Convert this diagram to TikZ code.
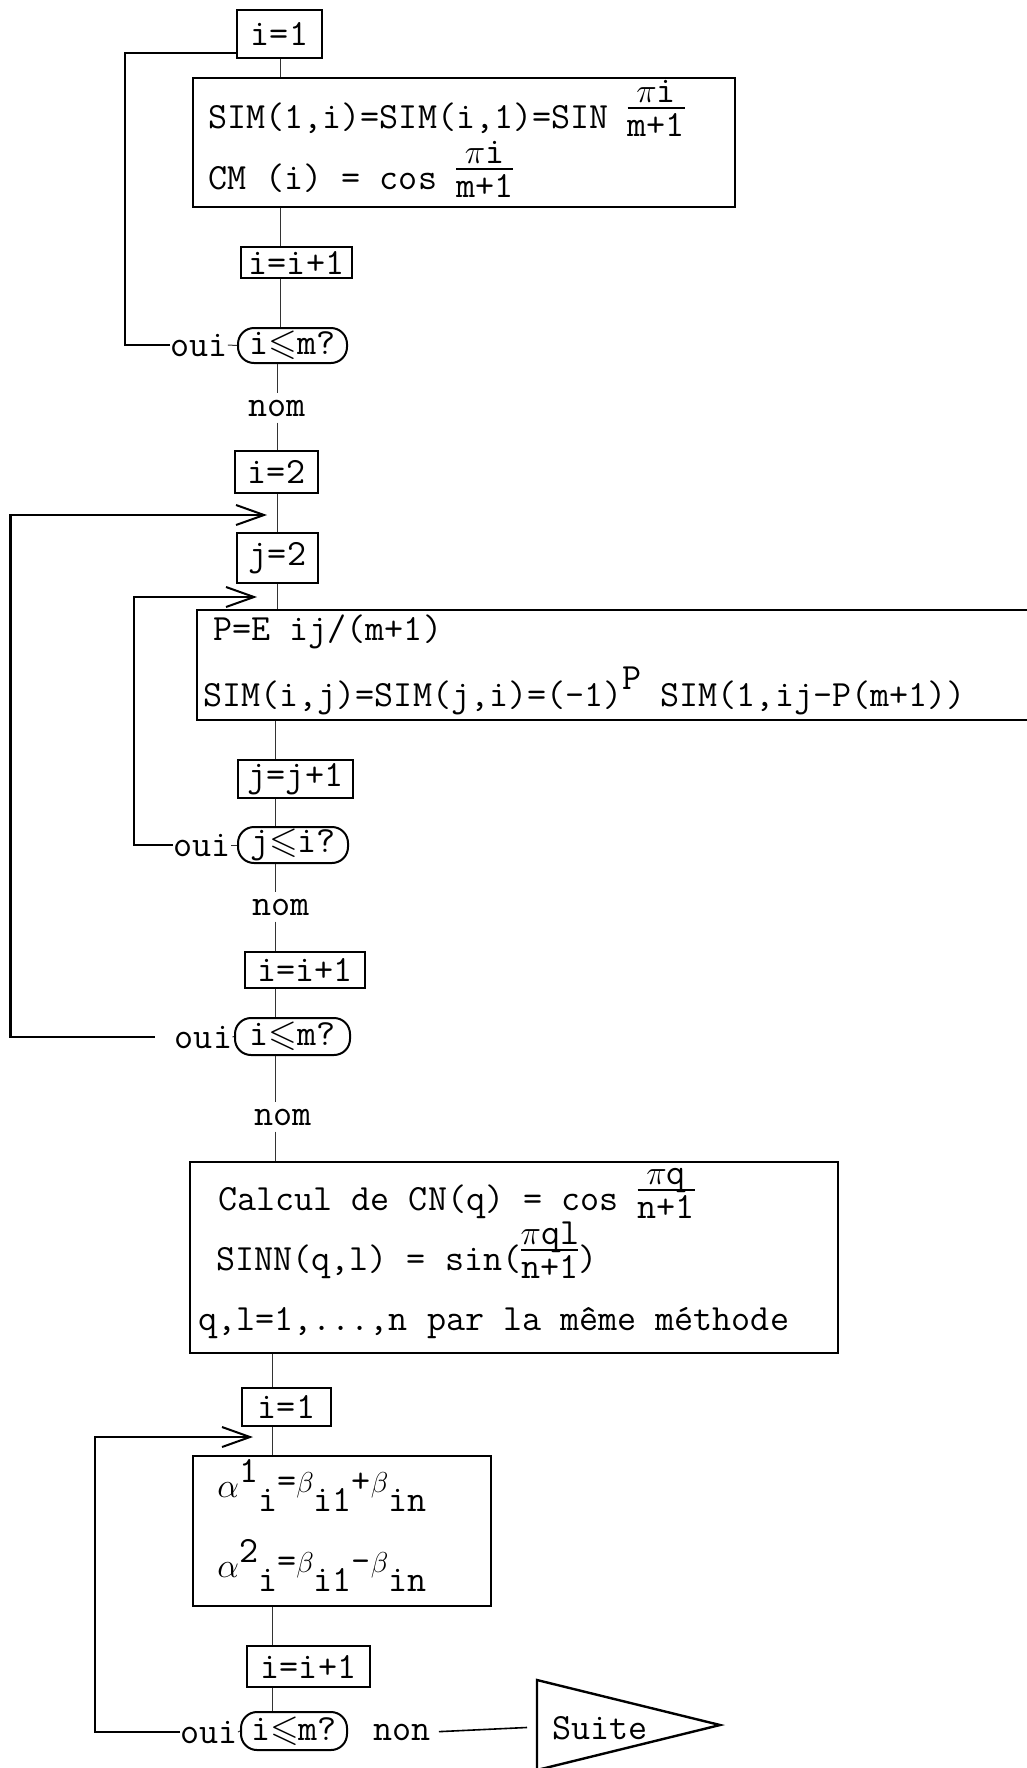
\documentclass[tikz,border=0pt]{standalone}
\usepackage{amssymb}
\usetikzlibrary{arrows.meta}
\newlength\tyw
\newcommand\tyfrac[2]{%
  \setbox0=\hbox{#1}\setbox2=\hbox{#2}%
  \tyw=\wd0 \ifdim\wd2>\tyw \tyw=\wd2 \fi
  \hbox to\tyw{\hss\raise0.7em\box0\hss}%
  \kern-\tyw
  \hbox to\tyw{\hss\lower0.22em\box2\hss}%
  \kern-\tyw
  \raise0.52em\hbox{\vrule width\tyw height0.9pt depth0pt}}
\newcommand\smb{{\fontsize{15}{17}\selectfont$\beta$}}
\begin{document}
\begin{tikzpicture}[x=0.5pt,y=-0.5pt,
  every node/.style={font=\ttfamily\fontsize{18.5}{22}\selectfont, inner sep=0pt},
  sbox/.style={draw, line width=0.8pt},
  bbox/.style={draw, line width=1.1pt},
  dec/.style={draw, line width=1pt, rounded corners=8pt},
  conn/.style={line width=0.5pt, black!80},
  loopl/.style={line width=1.2pt},
  barb/.style={-{Straight Barb[length=14pt,width=10pt,line width=1pt]}},
  txt/.style={anchor=base west},
  lab/.style={inner sep=3pt}]
\useasboundingbox (0,0) rectangle (1027,1768);
\coordinate (l1) at (0,53);
\coordinate (m1) at (280,0);
\coordinate (m2) at (277,0);
\coordinate (m3) at (275,0);
\coordinate (m4) at (272,0);
\coordinate (a2) at (277,515);
\coordinate (a3) at (277,597);
\coordinate (a4) at (272,1437);

% first block
\node[sbox, minimum width=42.5pt, minimum height=24pt] (bi1) at (279.5,34) {i=1};
\node[bbox, minimum width=271pt, minimum height=64.5pt] (B1) at (464,142.5) {};
\node[txt] (t11) at (208,128) {SIM(1,i)=SIM(i,1)=SIN \tyfrac{$\pi$i}{m+1}};
\node[txt] (t12) at (208,189) {CM (i) = cos \tyfrac{$\pi$i}{m+1}};
\node[sbox, minimum width=55.5pt, minimum height=15.5pt] (bii1) at (296.5,262.5) {i=i+1};
\node[dec, minimum width=54.5pt, minimum height=17.5pt] (d1) at (292.5,345.5) {i$\leqslant$m?};
\node (oui1) at (199,345) {oui};
\node[lab] (nom1) at (277,408) {nom};

% second block
\node[sbox, minimum width=41.5pt, minimum height=21pt] (bi2) at (276.5,472) {i=2};
\node[sbox, minimum width=40.5pt, minimum height=25pt] (bj2) at (277.5,558) {j=2};
\node[bbox, minimum width=421.5pt, minimum height=55pt] (B2) at (618.5,665) {};
\node[txt] (t21) at (213,640) {P=E ij/(m+1)};
\node[txt] (t22) at (203,706) {SIM(i,j)=SIM(j,i)=(-1)\raise0.45em\hbox{P} SIM(1,ij-P(m+1))};
\node[sbox, minimum width=57.5pt, minimum height=19pt] (bjj1) at (295.5,779) {j=j+1};
\node[dec, minimum width=55pt, minimum height=18pt] (d2) at (293,845) {j$\leqslant$i?};
\node (oui2) at (202,845) {oui};
\node[lab] (nom2) at (281,907) {nom};
\node[sbox, minimum width=60pt, minimum height=18pt] (bii2) at (305,970) {i=i+1};
\node[dec, minimum width=57.5pt, minimum height=18.5pt] (d3) at (292.5,1036.5) {i$\leqslant$m?};
\node (oui3) at (203.5,1037) {oui};
\node[lab] (nom3) at (283,1117) {nom};

% third block
\node[bbox, minimum width=324pt, minimum height=95.5pt] (B3) at (514,1257.5) {};
\node[txt] (t31) at (218,1210) {Calcul de CN(q) = cos \tyfrac{$\pi$q}{n+1}};
\node[txt] (t32) at (216,1270) {SINN(q,l) = sin(\tyfrac{$\pi$ql}{n+1})};
\node[txt] (t33) at (198,1330) {q,l=1,...,n par la même méthode};

% fourth block
\node[sbox, minimum width=44.5pt, minimum height=19pt] (bi1b) at (286.5,1407) {i=1};
\node[bbox, minimum width=149pt, minimum height=75pt] (B4) at (342,1531) {};
\node[txt] (t41) at (217,1497) {$\alpha$\raise0.4em\hbox{1}\lower0.4em\hbox{i}\raise0.12em\hbox{=\smb}\lower0.4em\hbox{i1}\raise0.12em\hbox{+\smb}\lower0.4em\hbox{in}};
\node[txt] (t42) at (217,1577) {$\alpha$\raise0.4em\hbox{2}\lower0.4em\hbox{i}\raise0.12em\hbox{=\smb}\lower0.4em\hbox{i1}\raise0.12em\hbox{-\smb}\lower0.4em\hbox{in}};
\node[sbox, minimum width=61.5pt, minimum height=20.5pt] (bii3) at (308.5,1666.5) {i=i+1};
\node[dec, minimum width=53pt, minimum height=19pt] (d4) at (294,1731) {i$\leqslant$m?};
\node (oui4) at (209,1732) {oui};
\node (non) at (402,1732) {non};
\draw[line width=1.2pt] (537,1680) -- (720,1725) -- (537,1770) -- cycle;
\coordinate (tri) at (537,1727);
\node (suite) at (600,1728) {Suite};

% main connectors
\draw[conn] (bi1.south -| m1) -- (B1.north -| m1);
\draw[conn] (B1.south -| m1) -- (bii1.north -| m1);
\draw[conn] (bii1.south -| m1) -- (d1.north -| m1);
\draw[conn] (d1.south -| m2) -- (nom1.north -| m2);
\draw[conn] (nom1.south -| m2) -- (bi2.north -| m2);
\draw[conn] (bi2.south -| m2) -- (bj2.north -| m2);
\draw[conn] (bj2.south -| m2) -- (B2.north -| m2);
\draw[conn] (B2.south -| m3) -- (bjj1.north -| m3);
\draw[conn] (bjj1.south -| m3) -- (d2.north -| m3);
\draw[conn] (d2.south -| m3) -- (nom2.north -| m3);
\draw[conn] (nom2.south -| m3) -- (bii2.north -| m3);
\draw[conn] (bii2.south -| m3) -- (d3.north -| m3);
\draw[conn] (d3.south -| m3) -- (nom3.north -| m3);
\draw[conn] (nom3.south -| m3) -- (B3.north -| m3);
\draw[conn] (B3.south -| m4) -- (bi1b.north -| m4);
\draw[conn] (bi1b.south -| m4) -- (B4.north -| m4);
\draw[conn] (B4.south -| m4) -- (bii3.north -| m4);
\draw[conn] (bii3.south -| m4) -- (d4.north -| m4);

% oui dashes
\draw[conn] (oui1.east) -- (d1.west);
\draw[conn] (oui2.east) -- (d2.west);
\draw[conn] (oui3.east) -- (d3.west);
\draw[conn] (oui4.east) -- (d4.west);

% loops
\draw[loopl] (oui1.west) -- ++(-45,0) |- (bi1.west |- l1);
\draw[loopl, barb, shorten <=10pt, shorten >=5pt] (oui3.west) -- ++(-164,0) |- (a2);
\draw[loopl, barb, shorten >=10pt] (oui2.west) -- ++(-39,0) |- (a3);
\draw[loopl, barb, shorten >=9.5pt] (oui4.west) -- ++(-85,0) |- (a4);

% exit
\draw[line width=0.8pt, shorten <=4pt, shorten >=5pt] (non.east) -- (tri);
\end{tikzpicture}
\end{document}
